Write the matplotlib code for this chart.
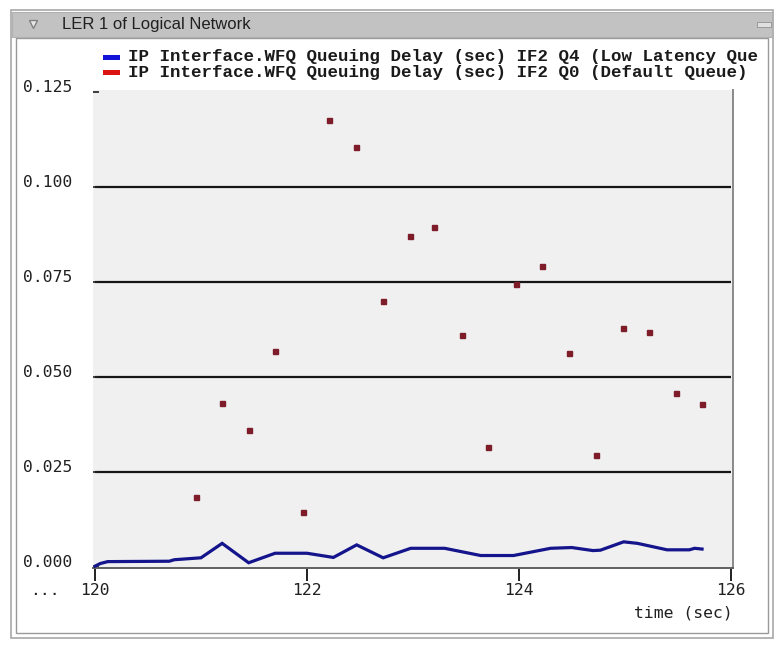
import matplotlib
matplotlib.use("Agg")
import matplotlib.pyplot as plt
from matplotlib.patches import Rectangle

# ---------------- data ----------------
red_t = [120.95, 121.2, 121.45, 121.7, 121.96, 122.21, 122.46, 122.72, 122.97, 123.2,
         123.46, 123.71, 123.97, 124.22, 124.47, 124.73, 124.98, 125.23, 125.48, 125.73]
red_v = [0.0184, 0.0433, 0.0361, 0.0569, 0.0145, 0.1175, 0.1106, 0.0701, 0.0870, 0.0896,
         0.0611, 0.0317, 0.0745, 0.0792, 0.0563, 0.0295, 0.0628, 0.0620, 0.0459, 0.0430]

blue_t = [120.0, 120.05, 120.12, 120.7, 120.75, 121.0, 121.2, 121.45, 121.7, 122.0,
          122.25, 122.47, 122.72, 122.98, 123.3, 123.64, 123.95, 124.3, 124.5, 124.7,
          124.77, 124.99, 125.12, 125.4, 125.61, 125.66, 125.73]
blue_v = [0.0003, 0.0010, 0.0015, 0.0016, 0.0020, 0.0025, 0.0063, 0.0012, 0.0037, 0.0037,
          0.0026, 0.0059, 0.0025, 0.0050, 0.0050, 0.0031, 0.0031, 0.0050, 0.0052, 0.0044,
          0.0045, 0.0067, 0.0063, 0.0046, 0.0046, 0.0050, 0.0048]

y_ticks = [0.0, 0.025, 0.05, 0.075, 0.1, 0.125]
y_tick_labels = ["0.000", "0.025", "0.050", "0.075", "0.100", "0.125"]
x_ticks = [120, 122, 124, 126]
x_tick_labels = ["120", "122", "124", "126"]
grid_levels = [0.025, 0.05, 0.075, 0.1]

title_text = "LER 1 of Logical Network"
legend_labels = ["IP Interface.WFQ Queuing Delay (sec) IF2 Q4 (Low Latency Que",
                 "IP Interface.WFQ Queuing Delay (sec) IF2 Q0 (Default Queue)"]
xlabel_text = "time (sec)"

# ---------------- layout ----------------
W, H = 775, 648
fig = plt.figure(figsize=(W / 100, H / 100), dpi=100)
fig.patch.set_facecolor("white")

def fx(x):
    return x / W

def fy(y):
    return 1 - y / H

# window frame
fig.add_artist(Rectangle((fx(11), fy(638)), fx(773) - fx(11), fy(10) - fy(638),
                         transform=fig.transFigure, fill=False, edgecolor="#a8a8a8", lw=1.2))
fig.add_artist(Rectangle((fx(16), fy(633)), fx(768) - fx(16), fy(38) - fy(633),
                         transform=fig.transFigure, fill=False, edgecolor="#9a9a9a", lw=1.0))
# title bar
fig.add_artist(Rectangle((fx(12), fy(37)), fx(772) - fx(12), fy(12) - fy(37),
                         transform=fig.transFigure, facecolor="#c2c2c2", edgecolor="#b0b0b0", lw=0.8))
fig.text(fx(62), fy(24.5), title_text, fontsize=12, family="Liberation Sans",
         va="center", ha="left", color="#202020")
fig.add_artist(plt.Line2D([fx(33)], [fy(24)], marker="v", markersize=6,
                          markerfacecolor="#e8e8e8", markeredgecolor="#808080",
                          transform=fig.transFigure))
fig.add_artist(Rectangle((fx(757), fy(27)), fx(771) - fx(757), fy(22) - fy(27),
                         transform=fig.transFigure, facecolor="#e0e0e0", edgecolor="#909090", lw=0.6))

# legend
leg_colors = ["#1212d8", "#dc1414"]
leg_rows = [57, 72]
for lab, col, yy in zip(legend_labels, leg_colors, leg_rows):
    fig.add_artist(Rectangle((fx(103), fy(yy + 3)), fx(120) - fx(103), fy(yy - 2.5) - fy(yy + 3),
                             transform=fig.transFigure, facecolor=col, edgecolor="none"))
    fig.text(fx(128), fy(yy), lab, fontsize=12.6, family="Liberation Mono",
             weight="bold", va="center", ha="left", color="#1a1a1a")

# axes
x0, x1 = 93, 733
y0, y1 = 90, 568
ax = fig.add_axes([fx(x0), fy(y1), fx(x1) - fx(x0), fy(y0) - fy(y1)])
ax.set_facecolor("#f0f0f0")
ax.set_xlim(119.981, 126.022)
ax.set_ylim(-0.00018, 0.1255)

for g in grid_levels:
    ax.hlines(g, 120, 126, colors="#151515", lw=1.6, zorder=1)

ax.plot(blue_t, blue_v, color="#14148c", lw=2.3, zorder=3, solid_joinstyle="miter")
ax.plot(red_t, red_v, linestyle="none", marker="s", markersize=3.6,
        color="#7e1c2a", zorder=4)

for s in ["left", "top"]:
    ax.spines[s].set_visible(False)
ax.spines["right"].set_color("#8a8a8a")
ax.spines["right"].set_linewidth(1.4)
ax.spines["bottom"].set_color("#606060")
ax.spines["bottom"].set_linewidth(1.4)

mono = "DejaVu Sans Mono"
ax.set_yticks(y_ticks)
ax.set_yticklabels(y_tick_labels, family=mono, fontsize=11.8, color="#202020")
for t in ax.get_yticklabels():
    t.set_va("baseline")
ax.tick_params(axis="y", direction="in", length=4, width=1.2, color="#202020", pad=15)

ax.set_xticks(x_ticks)
ax.set_xticklabels(x_tick_labels, family=mono, fontsize=11.8, color="#202020")
ax.tick_params(axis="x", direction="out", length=9, width=1.4, color="#202020", pad=2)

fig.text(fx(45), fy(583), "...", family=mono, fontsize=11.8, ha="center", va="top",
         color="#202020")
fig.text(fx(733), fy(613), xlabel_text, family=mono, fontsize=11.8, ha="right",
         va="center", color="#202020")

fig.savefig("out.png", dpi=100, facecolor="white")
